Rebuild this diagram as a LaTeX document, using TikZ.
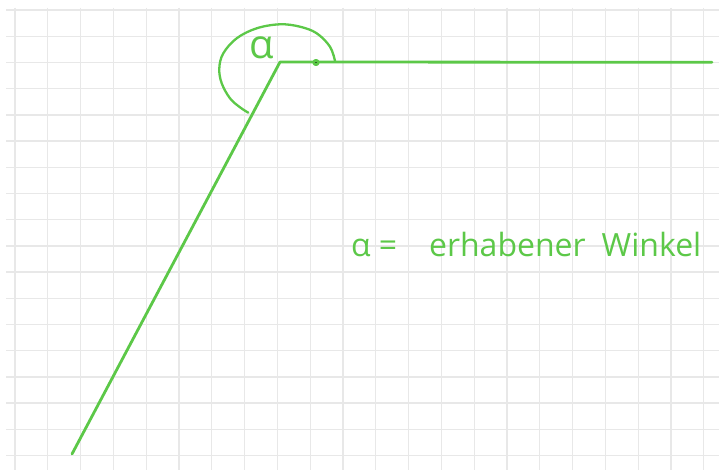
\documentclass[tikz,border=0pt]{standalone}
\usepackage{fontspec}
\setmainfont{Open Sans}
\definecolor{pen}{RGB}{92,200,72}
\definecolor{gridc}{RGB}{232,232,232}
\begin{document}
\begin{tikzpicture}[x=1pt,y=-1pt,
  pen/.style={draw=pen, line width=2.8pt, line cap=round, line join=round},
  gridline/.style={draw=gridc, line width=1.3pt},
  handtext/.style={text=pen, inner sep=0pt}]
\useasboundingbox (0,0) rectangle (719,470);
\fill[white] (0,0) rectangle (719,470);
\foreach \k in {0,...,21} \draw[gridline] ({15+32.8*\k},8) -- ({15+32.8*\k},470);
\foreach \k in {0,...,17} \draw[gridline] (6,{10.1+26.2*\k}) -- (719,{10.1+26.2*\k});
\coordinate (V) at (280,62);
\coordinate (E) at (712,62.3);
\coordinate (S) at (72,454);
\coordinate (A1) at (335,61);
\coordinate (A2) at (248.3,112.7);
\draw[pen] (S) -- (V) -- (E);
\draw[pen, line width=2.3pt] plot[smooth, tension=0.6] coordinates {(A1) (330,46.7) (316.7,33.3) (300,26.7) (280,24.3) (256.7,28.3) (236.7,38.3) (223.3,53.3) (219.3,68.3) (221.7,83.3) (230,98.3) (240,107.3) (A2)};
\fill[pen] (316,62.5) circle (2.2pt);
\node[handtext] (alpha) at (262,48) {\fontsize{40}{40}\selectfont α};
\node[handtext, anchor=base west] (lbl) at (351,256) {\resizebox{350pt}{!}{α\hspace{2.5pt}=\hspace{10pt}erhabener\hspace{5pt}Winkel}};
\end{tikzpicture}
\end{document}
